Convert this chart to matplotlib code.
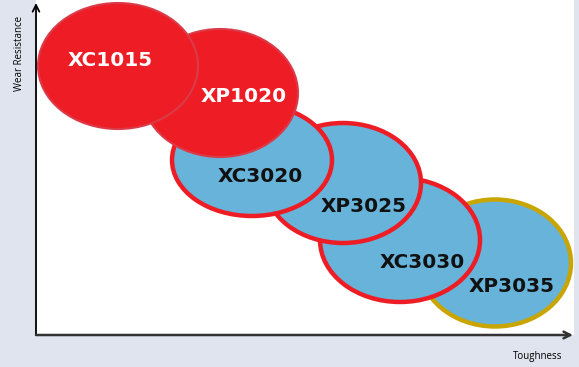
import matplotlib.pyplot as plt
from matplotlib.patches import Ellipse

# grades placed by toughness (x) and wear resistance (y)
grades = ['XC1015', 'XP1020', 'XC3020', 'XP3025', 'XC3030', 'XP3035']
toughness = [82, 184, 216, 307, 364, 459]
wear = [269, 242, 175, 152, 95, 72]
spread_x = [160, 156, 160, 156, 160, 152]
spread_y = [126, 128, 112, 120, 124, 127]
label_x = [74, 208, 224, 328, 386, 476]
label_y = [275, 239, 159, 129, 73, 48]

face = ['#ee1d25', '#ee1d25', '#67b3d9', '#67b3d9', '#67b3d9', '#67b3d9']
edge = ['#db3a48', '#db3a48', '#ee1d25', '#ee1d25', '#ee1d25', '#c9a502']
lw = [1.5, 1.5, 3.2, 3.2, 3.2, 3.2]
txt_col = ['white', 'white', '#111111', '#111111', '#111111', '#111111']

fig = plt.figure(figsize=(5.79, 3.67), dpi=100)
fig.patch.set_facecolor('#e0e4ef')

ax = fig.add_axes([36/579, 32/367, 538/579, 335/367])
ax.set_facecolor('white')
ax.set_xlim(0, 538)
ax.set_ylim(0, 335)
for s in ax.spines.values():
    s.set_visible(False)
ax.set_xticks([])
ax.set_yticks([])

n = len(grades)
for i in range(n):
    e = Ellipse((toughness[i], wear[i]), spread_x[i], spread_y[i],
                facecolor=face[i], edgecolor=edge[i], linewidth=lw[i],
                zorder=10 + n - i)
    ax.add_patch(e)
    ax.text(label_x[i], label_y[i], grades[i], ha='center', va='center',
            fontsize=14.4, fontweight='bold', color=txt_col[i],
            family='DejaVu Sans', zorder=30)

# axes arrows
ax.annotate('', xy=(0, 332), xytext=(0, 0), xycoords='data',
            arrowprops=dict(arrowstyle='->', color='black', lw=1.3,
                            shrinkA=0, shrinkB=0, mutation_scale=12),
            annotation_clip=False, zorder=40)
ax.annotate('', xy=(537, 0), xytext=(0, 0), xycoords='data',
            arrowprops=dict(arrowstyle='->', color='#333333', lw=1.8,
                            shrinkA=0, shrinkB=0, mutation_scale=12),
            annotation_clip=False, zorder=40)

fig.text(20/579, 1 - 53/367, 'Wear Resistance', rotation=90, ha='center',
         va='center', fontsize=7, family=['Open Sans', 'DejaVu Sans'])
fig.text(538/579, 1 - 356/367, 'Toughness', ha='center', va='center',
         fontsize=7, family=['Open Sans', 'DejaVu Sans'])

fig.savefig('out.png', dpi=100, facecolor=fig.get_facecolor())
